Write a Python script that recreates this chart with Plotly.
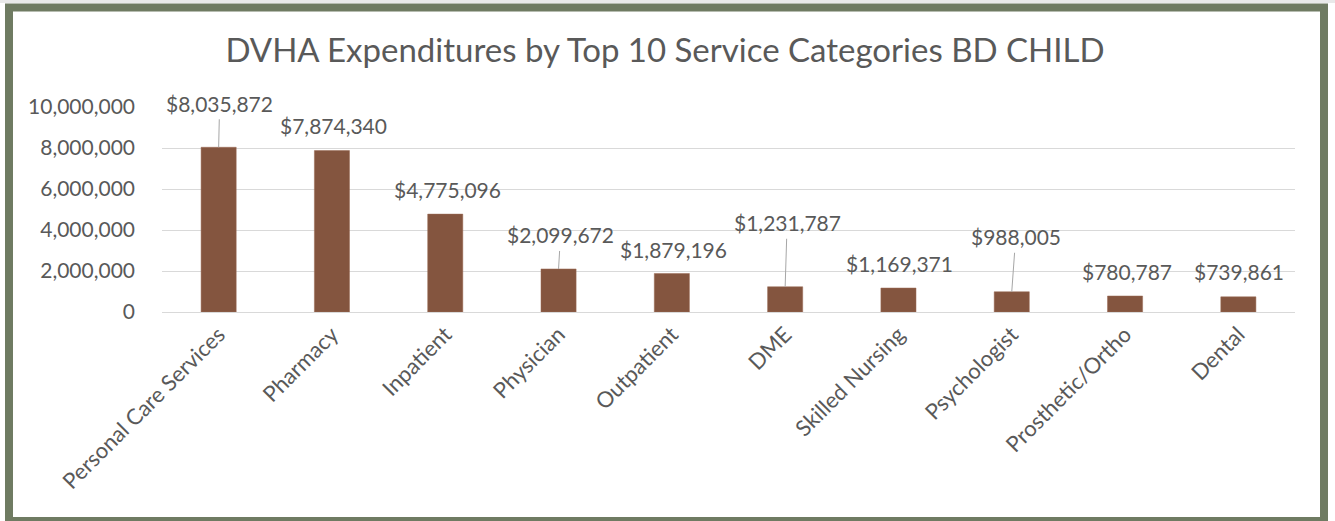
import plotly.graph_objects as go

categories = ["Personal Care Services", "Pharmacy", "Inpatient", "Physician", "Outpatient",
              "DME", "Skilled Nursing", "Psychologist", "Prosthetic/Ortho", "Dental"]
expenditures = [8035872, 7874340, 4775096, 2099672, 1879196, 1231787, 1169371, 988005, 780787, 739861]
y_tick_values = [0, 2000000, 4000000, 6000000, 8000000, 10000000]
title_text = "DVHA Expenditures by Top 10 Service Categories BD CHILD"

# label placement (pixel offsets from bar top) and whether a leader line is drawn
label_dx = [1, 2, 2, 2, 2, 2, 1, 4, 2, 1]
label_dy = [-44, -25, -25, -34, -24, -64, -25, -55, -24, -25]
label_leader = [True, False, False, True, False, True, False, True, False, False]

W, H = 1335, 521
ML, MR, MT, MB = 162, 40, 107, 209
FONT = "Lato"
TXT = "#595959"

fig = go.Figure(go.Bar(
    x=categories, y=expenditures,
    marker=dict(color="#84553f", line=dict(color="#9a6a55", width=0.5)),
    hoverinfo="x+y",
))

annotations = []
for cat, val, dx, dy, lead in zip(categories, expenditures, label_dx, label_dy, label_leader):
    text = "$" + f"{val:,}"
    if lead:
        annotations.append(dict(x=cat, y=val, xref="x", yref="y", text=text,
                                showarrow=True, arrowhead=0, arrowwidth=1, arrowcolor="#a6a6a6",
                                ax=dx, ay=dy, standoff=0, borderpad=3,
                                font=dict(family=FONT, size=21, color=TXT)))
    else:
        annotations.append(dict(x=cat, y=val, xref="x", yref="y", text=text,
                                showarrow=False, xshift=dx, yshift=-dy, yanchor="middle",
                                font=dict(family=FONT, size=21, color=TXT)))

pw = W - ML - MR
ph = H - MT - MB
def px_x(p):
    return (p - ML) / pw
def px_y(p):
    return (H - MB - p) / ph

shapes = [
    dict(type="rect", xref="paper", yref="paper",
         x0=px_x(-5), x1=px_x(W + 5), y0=px_y(3), y1=px_y(-5),
         fillcolor="#e9e9e9", line=dict(width=0), layer="below"),
    dict(type="rect", xref="paper", yref="paper",
         x0=px_x(9), x1=px_x(1324), y0=px_y(7.5), y1=px_y(521),
         fillcolor="white", line=dict(color="#6f7b62", width=8), layer="below"),
]

fig.update_layout(
    width=W, height=H,
    margin=dict(l=ML, r=MR, t=MT, b=MB, pad=0),
    paper_bgcolor="white", plot_bgcolor="white",
    title=dict(text=title_text, x=665 / W, xref="container", xanchor="center",
               y=1 - 50 / H, yref="container", yanchor="middle",
               font=dict(family=FONT, size=33, color=TXT)),
    font=dict(family=FONT, color=TXT),
    bargap=0.69,
    showlegend=False,
    annotations=annotations,
    shapes=shapes,
)
fig.update_xaxes(
    tickangle=-45, tickfont=dict(family=FONT, size=22, color=TXT),
    showline=True, linecolor="#d9d9d9", linewidth=1, ticks="", showgrid=False,
)
fig.update_yaxes(
    range=[0, 10000000], tickvals=y_tick_values, tickformat=",d",
    tickfont=dict(family=FONT, size=21, color=TXT),
    showgrid=True, gridcolor="#d9d9d9", gridwidth=1, zeroline=False,
    ticks="", ticklabelstandoff=26, showline=False,
)

fig.write_html("out.html", config={"displayModeBar": False})

# remove default browser body margin so the figure sits at the page origin
with open("out.html", "r", encoding="utf-8") as f:
    html = f.read()
html = html.replace("<body>", '<body style="margin:0;padding:0;overflow:hidden">', 1)
with open("out.html", "w", encoding="utf-8") as f:
    f.write(html)
